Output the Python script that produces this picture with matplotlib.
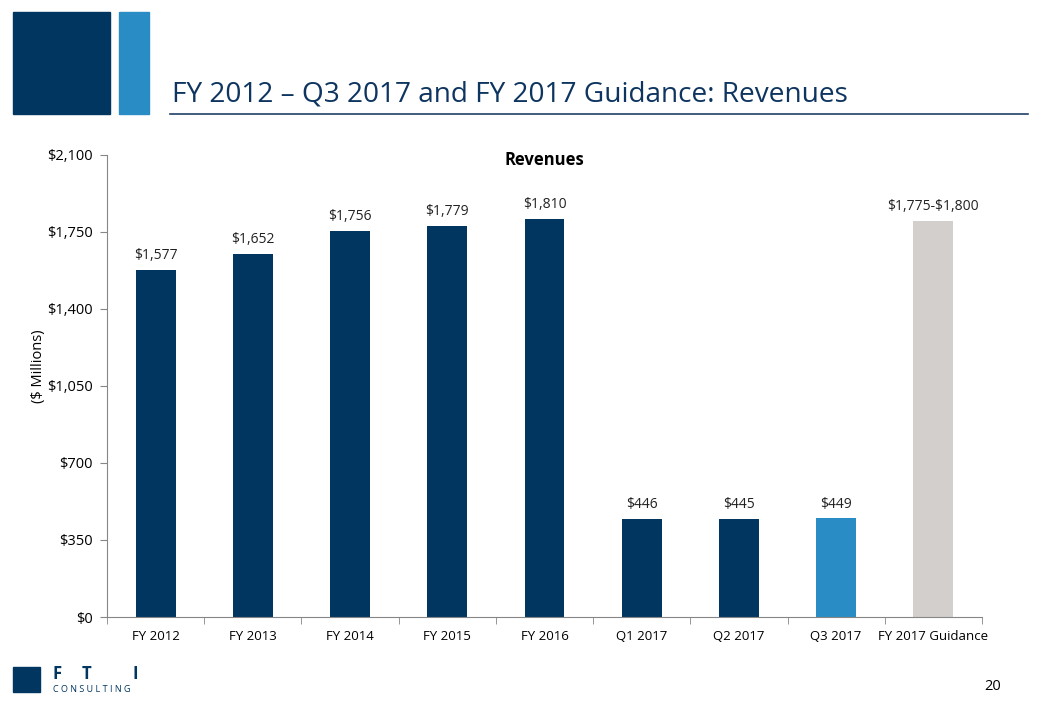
import matplotlib
matplotlib.use("Agg")
import matplotlib.pyplot as plt
from matplotlib.patches import Rectangle
from matplotlib.lines import Line2D
import numpy as np

categories = ["FY 2012", "FY 2013", "FY 2014", "FY 2015", "FY 2016",
              "Q1 2017", "Q2 2017", "Q3 2017", "FY 2017 Guidance"]
revenues = [1577, 1652, 1756, 1779, 1810, 446, 445, 449, 1800]
labels = ["$1,577", "$1,652", "$1,756", "$1,779", "$1,810",
          "$446", "$445", "$449", "$1,775-$1,800"]
y_ticks = [0, 350, 700, 1050, 1400, 1750, 2100]
y_ticklabels = ["$0", "$350", "$700", "$1,050", "$1,400", "$1,750", "$2,100"]

NAVY = "#003660"
LIGHT = "#2A8CC4"
GREY = "#D3CFCC"
colors = [NAVY] * 7 + [LIGHT, GREY]

plt.rcParams["font.family"] = ["Open Sans", "DejaVu Sans"]

def esc(s):
    return s.replace("$", r"\$")

fig = plt.figure(figsize=(10.4, 7.2), dpi=100, facecolor="white")

# header blocks
fig.patches.append(Rectangle((13/1040, 1-114/720), 97/1040, 102/720,
                             transform=fig.transFigure, color=NAVY))
fig.patches.append(Rectangle((119/1040, 1-114/720), 30/1040, 102/720,
                             transform=fig.transFigure, color=LIGHT))
fig.lines.append(Line2D([170/1040, 1028/1040], [1-114/720, 1-114/720],
                        transform=fig.transFigure, color="#1F3F66", lw=1.2))
fig.text(172/1040, 1-101/720, "FY 2012 \u2013 Q3 2017 and FY 2017 Guidance: Revenues",
         fontsize=20.2, color="#0E3560", ha="left", va="baseline")

ax = fig.add_axes([107/1040, 1-617/720, 875/1040, 462/720])
x = np.arange(len(categories))
ax.bar(x, revenues, width=0.41, color=colors)
for xi, v, lab in zip(x, revenues, labels):
    ax.text(xi, v + 30, esc(lab), ha="center", va="bottom", fontsize=10,
            color="#222222")

ax.set_xlim(-0.5, len(categories) - 0.5)
ax.set_ylim(0, 2100)
ax.set_yticks(y_ticks)
ax.set_yticklabels([esc(t) for t in y_ticklabels], fontsize=10.5)
ax.set_xticks(x)
ax.set_xticklabels(categories, fontsize=9.5)
ax.set_xticks(np.arange(-0.5, len(categories)), minor=True)
ax.tick_params(axis="x", which="major", length=0, pad=9)
ax.tick_params(axis="x", which="minor", length=5, color="#868686")
ax.tick_params(axis="y", length=5, color="#868686", pad=5)
for s in ["top", "right"]:
    ax.spines[s].set_visible(False)
for s in ["left", "bottom"]:
    ax.spines[s].set_color("#868686")
ax.set_ylabel("($ Millions)", fontsize=10.5)
ax.yaxis.set_label_coords(-0.07, 0.543)
ax.text(0.5, 1.008, "Revenues", transform=ax.transAxes, ha="center", va="top",
        fontsize=12, fontweight="bold")

# logo
fig.patches.append(Rectangle((13/1040, 1-692/720), 27/1040, 25/720,
                             transform=fig.transFigure, color=NAVY))
for lx, letter in zip([52, 82, 133], ["F", "T", "I"]):
    fig.text(lx/1040, 1-679/720, letter, fontsize=12, color=NAVY,
             fontweight="bold", va="baseline", ha="left")
fig.text(53/1040, 1-692/720, "C O N S U L T I N G", fontsize=6.5, color=NAVY,
         va="baseline", ha="left")
fig.text(993/1040, 1-687/720, "20", fontsize=10.5, ha="center", va="center")

fig.savefig("out.png", dpi=100, facecolor="white")
